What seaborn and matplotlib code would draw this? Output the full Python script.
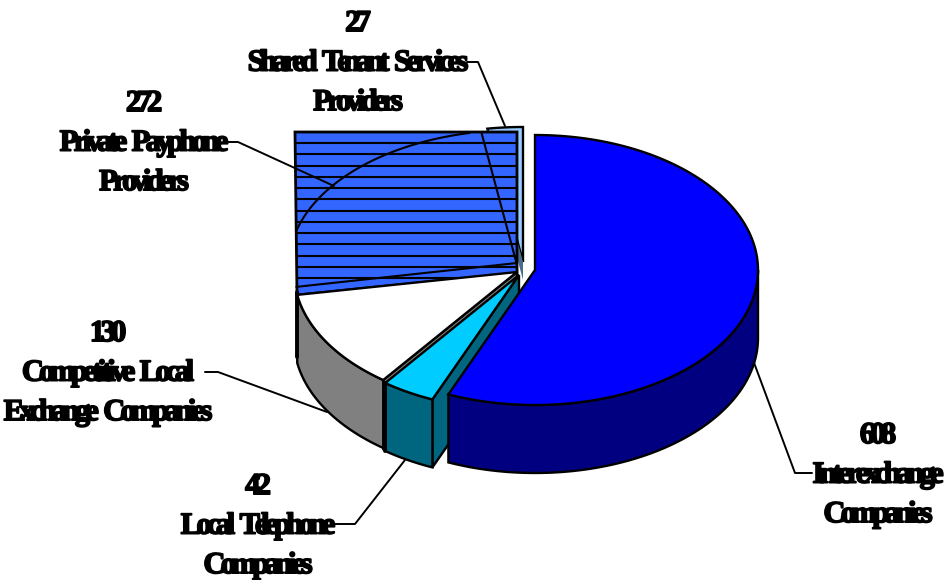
import numpy as np
import matplotlib
matplotlib.use("Agg")
import matplotlib.pyplot as plt
import matplotlib.patheffects as pe
from matplotlib.patches import Polygon
from matplotlib.text import Text
from matplotlib.transforms import Bbox, IdentityTransform
import seaborn as sns

# Carriers by type of telecommunications service
categories = ["Interexchange\nCompanies", "Local Telephone\nCompanies",
              "Competitive Local\nExchange Companies", "Private Payphone\nProviders",
              "Shared Tenant Services\nProviders"]
values = [608, 42, 130, 272, 27]

top_colors = ["#0000FF", "#00CCFF", "#FFFFFF", "#3366FF", "#99CCFF"]
side_colors = ["#000080", "#006680", "#808080", "#27408B", "#4A6D8C"]

# Pixel layout of the drawing
centers = [(535, 270), (519, 275), (517, 272), (517, 265), (523, 262)]
radii = [(223, 135), (223, 135), (223, 135), (228, 135), (228, 135)]
DEPTH = 68
LW = 1.7
label_pos = [(878, 434), (258, 485), (108, 332), (144, 102), (358, 22)]
LINE_GAP = 39.5
leaders = [
    ([753, 795, 812], [360, 473, 473]),
    ([335, 355, 405], [524, 524, 460]),
    ([205, 218, 327], [372, 372, 412]),
    ([228, 238, 334], [142, 142, 186]),
    ([467, 478, 505], [62, 62, 126]),
]

sns.set_theme(style="white")
plt.rcParams["font.family"] = ["Liberation Serif", "DejaVu Sans"]


class TrackedText(Text):
    """Centred single-line text drawn with tightened letter spacing."""

    def __init__(self, x, y, s, tracking, **kw):
        super().__init__(x, y, s, ha="center", va="center", **kw)
        self.tracking = tracking

    def _natural_width(self, renderer, s):
        if not s:
            return 0.0
        fp = self.get_fontproperties()
        return renderer.get_text_width_height_descent(s, fp, False)[0]

    def _squeeze(self, s):
        # Word gaps keep a little more room than the gaps between letters
        return self.tracking * (len(s) - 1.3 * s.count(" "))

    def get_window_extent(self, renderer=None, dpi=None):
        box = super().get_window_extent(renderer, dpi)
        cut = self._squeeze(self.get_text()[:-1]) / 2
        return Bbox.from_extents(box.x0 + cut, box.y0, box.x1 - cut, box.y1)

    def draw(self, renderer):
        s = self.get_text()
        fp = self.get_fontproperties()
        px = fp.get_size_in_points() * self.figure.dpi / 72
        xp, yp = self.get_transform().transform((self.get_unitless_position()))
        total = self._natural_width(renderer, s) - self._squeeze(s[:-1])
        left = xp - total / 2
        base = yp - 0.30 * px
        for i, ch in enumerate(s):
            if ch == " ":
                continue
            off = self._natural_width(renderer, s[:i]) - self._squeeze(s[:i])
            glyph = Text(left + off, base, ch, transform=IdentityTransform(),
                         fontproperties=fp, color=self.get_color(),
                         ha="left", va="baseline",
                         path_effects=self.get_path_effects())
            glyph.set_figure(self.figure)
            glyph.draw(renderer)


def rim(center, radius, a0, a1, n=80):
    """Ellipse points from a0 to a1, degrees clockwise from twelve o'clock."""
    t = np.radians(np.linspace(a0, a1, n))
    return np.column_stack([center[0] + radius[0] * np.sin(t),
                            center[1] - radius[1] * np.cos(t)])


def add_poly(ax, pts, color, z, lw=LW):
    patch = Polygon(pts, closed=True, facecolor=color, edgecolor="black",
                    linewidth=lw, joinstyle="miter", zorder=z)
    ax.add_patch(patch)
    return patch


def extruded_rim(ax, center, radius, a0, a1, color, z):
    upper = rim(center, radius, a0, a1)
    lower = upper + [0, DEPTH]
    add_poly(ax, np.vstack([upper, lower[::-1]]), color, z)


fig = plt.figure(figsize=(9.44, 5.8), dpi=100, facecolor="white")
ax = fig.add_axes([0, 0, 1, 1])
ax.set_axis_off()

edges = np.concatenate([[0], np.cumsum(values)]) / np.sum(values) * 360
starts, ends = edges[:-1], edges[1:]

# Leader lines sit underneath the pie; the payphone one crosses its striped block
for k, (lx, ly) in enumerate(leaders):
    sns.lineplot(x=lx, y=ly, sort=False, estimator=None, color="black",
                 linewidth=1.4, legend=False, ax=ax, zorder=3.3 if k == 3 else 1)

# Shared tenant slice, at the back
i = 4
cx, cy = centers[i]
add_poly(ax, np.vstack([[centers[i]], rim(centers[i], radii[i], starts[i], ends[i])]),
         top_colors[i], 2)
corner = rim(centers[i], radii[i], starts[i], starts[i], 1)[0]
add_poly(ax, [corner, (cx, cy), (cx, cy + 18), corner + [0, 18]], side_colors[i], 2.1, lw=0)

# Private payphone slice: striped block with its wedge outline on top
i = 3
cx, cy = centers[i]
wedge_left = rim(centers[i], radii[i], starts[i], starts[i], 1)[0]
block = add_poly(ax, [(295, 132), (cx, 132), (cx, 273), (297, 295)], top_colors[i], 3, lw=2.0)
for y in np.linspace(132, 278, 14):
    line, = ax.plot([295, cx], [y, y], color="black", lw=1.5, zorder=3.1)
    line.set_clip_path(block)
arc = rim(centers[i], radii[i], 278, ends[i] - 3)
arc = arc[arc[:, 0] >= 296]
ax.plot(arc[:, 0], arc[:, 1], color="black", lw=1.5, zorder=3.2)
tip = rim(centers[i], radii[i], ends[i], ends[i], 1)[0]
ax.plot([tip[0], cx], [max(tip[1], 132), cy], color="black", lw=1.5, zorder=3.2)
ax.plot([wedge_left[0] + 4, cx], [wedge_left[1] - 1, cy - 2], color="black", lw=1.5, zorder=3.2)

# Competitive local slice
i = 2
cx, cy = centers[i]
corner = rim(centers[i], radii[i], starts[i], starts[i], 1)[0]
add_poly(ax, [(cx, cy), corner, corner + [0, DEPTH], (cx, cy + DEPTH)], side_colors[i], 4)
extruded_rim(ax, centers[i], radii[i], starts[i], ends[i], side_colors[i], 4.1)
add_poly(ax, np.vstack([[centers[i]], rim(centers[i], radii[i], starts[i], ends[i])]),
         top_colors[i], 4.2)
ax.plot([296.5, 296.5], [292, 357], color="black", lw=2.8, zorder=4.3)

# Local telephone slice
i = 1
cx, cy = centers[i]
corner = rim(centers[i], radii[i], ends[i], ends[i], 1)[0]
far = rim(centers[i], radii[i], starts[i], starts[i], 1)[0]
add_poly(ax, [(cx, cy), far, far + [0, DEPTH], (cx, cy + DEPTH)], side_colors[i], 5)
extruded_rim(ax, centers[i], radii[i], starts[i], ends[i], side_colors[i], 5.1)
add_poly(ax, np.vstack([[centers[i]], rim(centers[i], radii[i], starts[i], ends[i])]),
         top_colors[i], 5.2)
ax.plot([corner[0], corner[0]], [corner[1], corner[1] + DEPTH], color="black", lw=2.8, zorder=5.3)

# Interexchange slice, in front
i = 0
extruded_rim(ax, centers[i], radii[i], 90, ends[i], side_colors[i], 6)
add_poly(ax, np.vstack([[centers[i]], rim(centers[i], radii[i], starts[i], ends[i], 200)]),
         top_colors[i], 6.1)

# Value and category labels
stroke = [pe.withStroke(linewidth=1.2, foreground="black")]
for (lx, ly), val, cat in zip(label_pos, values, categories):
    rows = [str(val)] + cat.split("\n")
    for k, row in enumerate(rows):
        ax.add_artist(TrackedText(lx, ly + k * LINE_GAP, row, 4.6, transform=ax.transData,
                                  fontsize=22, fontweight="bold", color="black",
                                  family=["Liberation Serif"], path_effects=stroke))

ax.set_xlim(0, 944)
ax.set_ylim(580, 0)
fig.savefig("out.png", dpi=100, facecolor="white")
